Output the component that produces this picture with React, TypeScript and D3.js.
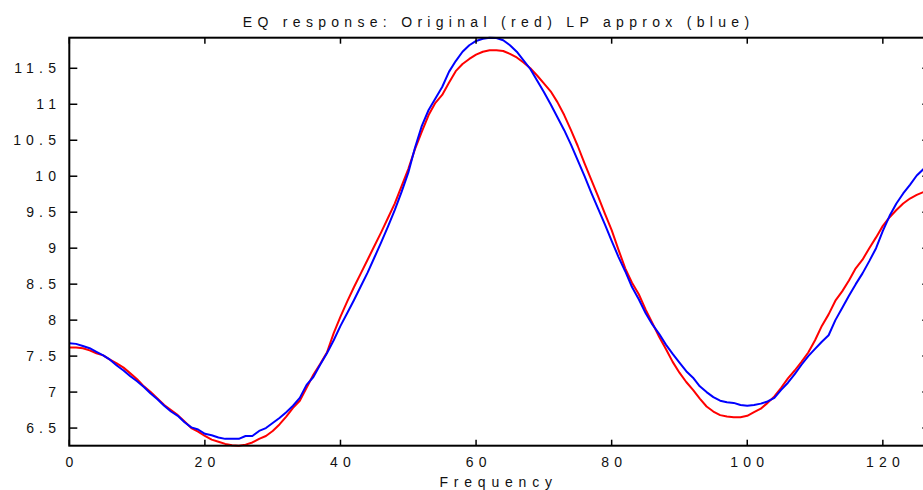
import React from "react";
import * as d3 from "d3";

// Frequency bins (0..127)
const frequency: number[] = d3.range(0, 128);

// Original EQ response (red)
const original: number[] = [
  7.62, 7.62, 7.61, 7.58, 7.54, 7.51, 7.45, 7.40, 7.34, 7.26,
  7.18, 7.08, 7.00, 6.91, 6.82, 6.75, 6.68, 6.59, 6.50, 6.45,
  6.39, 6.34, 6.31, 6.28, 6.26, 6.255, 6.27, 6.30, 6.35, 6.39,
  6.46, 6.55, 6.66, 6.78, 6.88, 7.06, 7.24, 7.39, 7.55, 7.82,
  8.05, 8.26, 8.46, 8.65, 8.84, 9.03, 9.22, 9.42, 9.62, 9.86,
  10.10, 10.38, 10.62, 10.85, 11.02, 11.13, 11.30, 11.46, 11.56, 11.63,
  11.69, 11.73, 11.75, 11.75, 11.74, 11.70, 11.65, 11.58, 11.50, 11.40,
  11.29, 11.18, 11.03, 10.85, 10.64, 10.42, 10.18, 9.95, 9.72, 9.48,
  9.25, 8.98, 8.72, 8.52, 8.36, 8.15, 7.96, 7.77, 7.60, 7.42,
  7.27, 7.14, 7.03, 6.91, 6.80, 6.73, 6.68, 6.66, 6.65, 6.65,
  6.67, 6.72, 6.77, 6.85, 6.94, 7.06, 7.19, 7.30, 7.42, 7.55,
  7.72, 7.92, 8.08, 8.27, 8.40, 8.55, 8.72, 8.84, 9.00, 9.15,
  9.31, 9.43, 9.53, 9.62, 9.69, 9.74, 9.78, 9.81,
];

// LP approximation (blue)
const lpApprox: number[] = [
  7.68, 7.67, 7.64, 7.61, 7.56, 7.51, 7.45, 7.37, 7.30, 7.22,
  7.15, 7.07, 6.98, 6.90, 6.81, 6.73, 6.67, 6.58, 6.51, 6.48,
  6.42, 6.40, 6.37, 6.35, 6.35, 6.35, 6.39, 6.39, 6.46, 6.50,
  6.57, 6.64, 6.72, 6.81, 6.92, 7.10, 7.21, 7.38, 7.54, 7.72,
  7.92, 8.10, 8.28, 8.47, 8.66, 8.87, 9.08, 9.30, 9.53, 9.78,
  10.05, 10.40, 10.70, 10.92, 11.08, 11.24, 11.45, 11.60, 11.73, 11.82,
  11.88, 11.91, 11.925, 11.92, 11.89, 11.82, 11.73, 11.61, 11.49, 11.33,
  11.17, 11.00, 10.82, 10.64, 10.44, 10.22, 10.00, 9.77, 9.55, 9.33,
  9.10, 8.88, 8.68, 8.46, 8.29, 8.10, 7.94, 7.81, 7.66, 7.53,
  7.41, 7.29, 7.20, 7.08, 7.00, 6.93, 6.88, 6.86, 6.85, 6.82,
  6.81, 6.82, 6.84, 6.87, 6.92, 7.03, 7.13, 7.25, 7.38, 7.50,
  7.60, 7.70, 7.79, 8.00, 8.17, 8.34, 8.50, 8.65, 8.82, 9.00,
  9.24, 9.45, 9.62, 9.76, 9.88, 10.01, 10.10, 10.16,
];

const xTicks: number[] = [0, 20, 40, 60, 80, 100, 120];
const yTicks: number[] = [6.5, 7, 7.5, 8, 8.5, 9, 9.5, 10, 10.5, 11, 11.5];

const titleText = "EQ response: Original (red) LP approx (blue)";
const xLabelText = "Frequency";

const W = 923;
const H = 490;
const left = 69.3;
const right = 930.3;
const top = 37.7;
const bottom = 445.7;
const font = "'Liberation Sans', Arial, Helvetica, sans-serif";
const LS = 5.2;

export default function App() {
  const all = original.concat(lpApprox);
  const [ymin, ymax] = d3.extent(all) as [number, number];
  const x = d3.scaleLinear().domain([frequency[0], frequency[frequency.length - 1]]).range([left, right]);
  const y = d3.scaleLinear().domain([ymin, ymax]).range([bottom, top]);

  const line = d3
    .line<number>()
    .x((_, i) => x(frequency[i]))
    .y((d) => y(d));

  const fmt = (v: number) => String(v);

  return (
    <svg
      width={W}
      height={H}
      style={{ position: "absolute", left: 0, top: 0, background: "#fff" }}
      fontFamily={font}
    >
      <rect x={0} y={0} width={W} height={H} fill="#fff" />
      <path d={line(original) || ""} fill="none" stroke="#ff0000" strokeWidth={2} strokeLinejoin="round" />
      <path d={line(lpApprox) || ""} fill="none" stroke="#0000ff" strokeWidth={2} strokeLinejoin="round" />

      {/* frame */}
      <rect x={left} y={top} width={right - left} height={bottom - top} fill="none" stroke="#000" strokeWidth={2} />

      {/* x ticks */}
      {xTicks.map((t) => (
        <g key={"x" + t}>
          <line x1={x(t)} x2={x(t)} y1={bottom} y2={bottom - 6} stroke="#000" strokeWidth={1.5} />
          <line x1={x(t)} x2={x(t)} y1={top} y2={top + 6} stroke="#000" strokeWidth={1.5} />
          <text
            x={x(t) + LS / 2}
            y={466.5}
            textAnchor="middle"
            fontSize={14}
            letterSpacing={LS}
            fill="#111"
          >
            {fmt(t)}
          </text>
        </g>
      ))}

      {/* y ticks */}
      {yTicks.map((t) => (
        <g key={"y" + t}>
          <line x1={left} x2={left + 8} y1={y(t)} y2={y(t)} stroke="#000" strokeWidth={1.5} />
          <line x1={right} x2={right - 8} y1={y(t)} y2={y(t)} stroke="#000" strokeWidth={1.5} />
          <text
            x={56 + LS}
            y={y(t) + 5}
            textAnchor="end"
            fontSize={14}
            letterSpacing={LS}
            fill="#111"
          >
            {fmt(t)}
          </text>
        </g>
      ))}

      <text x={496 + LS / 2} y={27} textAnchor="middle" fontSize={14} letterSpacing={5.3} fill="#111">
        {titleText}
      </text>
      <text x={496 + LS / 2} y={486.5} textAnchor="middle" fontSize={14} letterSpacing={5.8} fill="#111">
        {xLabelText}
      </text>
    </svg>
  );
}
